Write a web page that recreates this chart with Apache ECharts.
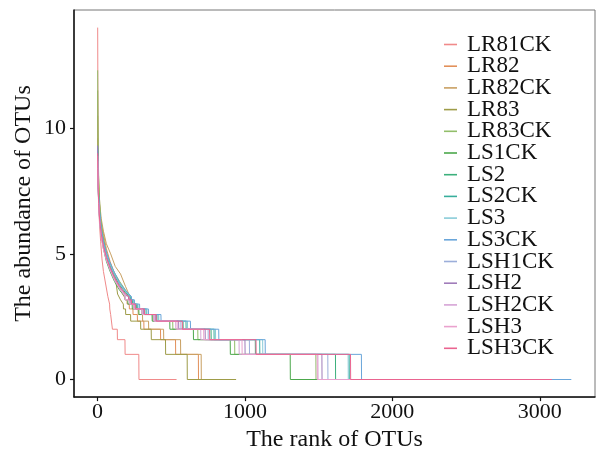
<!DOCTYPE html>
<html><head><meta charset="utf-8">
<script src="https://cdn.jsdelivr.net/npm/echarts@6/dist/echarts.min.js"></script>
<style>html,body{margin:0;padding:0;background:#fff}#c{width:597px;height:457px}</style>
</head><body><div id="c"></div>
<script>
// Sample names
const samples = ["LR81CK","LR82","LR82CK","LR83","LR83CK","LS1CK","LS2","LS2CK","LS3","LS3CK","LSH1CK","LSH2","LSH2CK","LSH3","LSH3CK"];
const colors = ["#F08A8A","#E2905A","#C9A062","#9E9C48","#92BE6A","#4CA84C","#3CB07C","#38AE9C","#8ACCD8","#6AA6DA","#9CAEDA","#A07CBA","#D6A4D6","#EAA2CE","#EA6490"];
const xTicks = [0,1000,2000,3000];
const yTicks = [0,5,10];

// Head of each curve: [rank, log2 abundance]
const head_LR81CK = [[1,14],[2,12],[3,10.5],[4,9.3],[6,8.1],[9,6.8],[14,6.1],[21,5.5],[30,4.8],[40,4.3],[55,3.8],[70,3.3],[82,3.0]];
const head_LR82   = [[1,9.6],[2,9.0],[4,8.2],[8,7.4],[15,6.8],[25,6.2],[40,5.8],[60,5.2],[85,4.7],[110,4.3],[140,3.8],[170,3.4],[200,3.1]];
const head_LR82CK = [[1,10.5],[2,9.8],[4,8.8],[8,7.8],[15,7.0],[25,6.4],[40,5.9],[60,5.4],[89,5.0],[120,4.5],[156,4.2],[190,3.7],[220,3.3]];
const head_LR83   = [[1,11.5],[2,10.2],[3,9.4],[5,8.5],[10,7.3],[20,6.3],[35,5.7],[55,5.1],[80,4.6],[105,4.2],[122,4.0],[136,3.4],[156,3.17],[175,3.0]];
const head_LR83CK = [[1,12.3],[2,11],[3,10],[5,8.8],[8,8.0],[12,7.3],[20,6.5],[35,5.8],[55,5.2],[80,4.7],[110,4.3],[150,3.9],[190,3.55],[225,3.3]];
const head_LS1CK  = [[1,9.0],[2,8.4],[4,7.7],[8,7.0],[15,6.3],[25,5.7],[40,5.2],[60,4.7],[85,4.3],[115,3.9],[150,3.55],[185,3.3]];
const head_LS2    = [[1,9.1],[2,8.5],[4,7.9],[8,7.2],[15,6.5],[25,5.9],[40,5.4],[60,4.9],[85,4.5],[115,4.1],[150,3.75],[190,3.45],[220,3.3]];
const head_LS2CK  = [[1,9.2],[2,8.6],[4,7.9],[8,7.2],[15,6.6],[25,6.0],[40,5.5],[60,5.0],[85,4.6],[115,4.2],[150,3.8],[190,3.5],[225,3.3]];
const head_LS3    = [[1,8.8],[2,8.3],[4,7.7],[8,7.1],[15,6.5],[25,5.9],[40,5.4],[60,5.0],[85,4.6],[115,4.2],[150,3.8],[190,3.5],[228,3.3]];
const head_LS3CK  = [[1,9.3],[2,8.7],[4,8.0],[8,7.3],[15,6.6],[25,6.0],[40,5.5],[60,5.05],[85,4.65],[115,4.25],[150,3.85],[190,3.55],[230,3.3]];
const head_LSH1CK = [[1,9.0],[2,8.4],[4,7.8],[8,7.1],[15,6.4],[25,5.8],[40,5.3],[60,4.85],[85,4.45],[115,4.05],[150,3.7],[190,3.4],[215,3.3]];
const head_LSH2   = [[1,9.3],[2,8.6],[4,7.8],[8,7.0],[15,6.3],[25,5.8],[40,5.3],[60,4.8],[85,4.4],[115,4.0],[150,3.65],[190,3.35],[210,3.3]];
const head_LSH2CK = [[1,8.7],[2,8.2],[4,7.6],[8,6.9],[15,6.2],[25,5.7],[40,5.2],[60,4.75],[85,4.35],[115,3.95],[150,3.6],[185,3.32]];
const head_LSH3   = [[1,8.9],[2,8.3],[4,7.6],[8,6.9],[15,6.2],[25,5.7],[40,5.2],[60,4.8],[85,4.4],[115,4.0],[150,3.65],[188,3.35]];
const head_LSH3CK = [[1,9.0],[2,8.4],[4,7.7],[8,7.0],[15,6.3],[25,5.8],[40,5.3],[60,4.85],[85,4.45],[115,4.05],[150,3.7],[190,3.4],[212,3.3]];

// Tail of each curve: [OTU count, last rank holding that count]
const steps_LR81CK = [[7,88],[6,100],[4,134],[3,186],[2,280],[1,536]];
const steps_LR82   = [[8,215],[7,240],[6,270],[5,314],[4,427],[3,529],[2,684],[1,700]];
const steps_LR82CK = [[8,245],[7,275],[6,305],[5,346],[4,448],[3,563],[2,703],[1,930]];
const steps_LR83   = [[7,190],[6,224],[5,292],[4,364],[3,461],[2,608],[1,940]];
const steps_LR83CK = [[9,240],[8,262],[7,300],[6,375],[5,510],[4,680],[3,930],[2,1481],[1,2200]];
const steps_LS1CK  = [[9,205],[8,235],[7,280],[6,370],[5,490],[4,650],[3,900],[2,1307],[1,1500]];
const steps_LS2    = [[9,235],[8,262],[7,320],[6,400],[5,580],[4,770],[3,1070],[2,1614],[1,2600]];
const steps_LS2CK  = [[9,240],[8,270],[7,330],[6,410],[5,600],[4,790],[3,1100],[2,1707],[1,2900]];
const steps_LS3    = [[9,245],[8,275],[7,335],[6,415],[5,610],[4,800],[3,1120],[2,1700],[1,2750]];
const steps_LS3CK  = [[9,250],[8,285],[7,345],[6,430],[5,630],[4,822],[3,1137],[2,1790],[1,3214]];
const steps_LSH1CK = [[9,228],[8,255],[7,315],[6,395],[5,565],[4,750],[3,1030],[2,1562],[1,2400]];
const steps_LSH2   = [[9,225],[8,252],[7,310],[6,390],[5,550],[4,730],[3,1000],[2,1522],[1,2500]];
const steps_LSH2CK = [[9,215],[8,245],[7,300],[6,380],[5,530],[4,700],[3,960],[2,1495],[1,2300]];
const steps_LSH3   = [[9,220],[8,248],[7,305],[6,385],[5,540],[4,720],[3,980],[2,1490],[1,2950]];
const steps_LSH3CK = [[9,230],[8,258],[7,318],[6,398],[5,575],[4,760],[3,1075],[2,1716],[1,3082]];

const heads = [head_LR81CK,head_LR82,head_LR82CK,head_LR83,head_LR83CK,head_LS1CK,head_LS2,head_LS2CK,head_LS3,head_LS3CK,head_LSH1CK,head_LSH2,head_LSH2CK,head_LSH3,head_LSH3CK];
const stepsAll = [steps_LR81CK,steps_LR82,steps_LR82CK,steps_LR83,steps_LR83CK,steps_LS1CK,steps_LS2,steps_LS2CK,steps_LS3,steps_LS3CK,steps_LSH1CK,steps_LSH2,steps_LSH2CK,steps_LSH3,steps_LSH3CK];

function buildCurve(head, steps){
  const pts = head.map(p => [p[0], p[1]]);
  let prev = head[head.length-1][0];
  steps.forEach(([n, last]) => {
    const v = Math.log2(n);
    pts.push([prev+1, v]);
    pts.push([last, v]);
    prev = last;
  });
  return pts;
}

const FONT = "Liberation Serif";
const series = samples.map((name,i) => ({
  name, type:'line', data: buildCurve(heads[i], stepsAll[i]),
  symbol:'none', showSymbol:false, animation:false,
  lineStyle:{width:1, color:colors[i]}, itemStyle:{color:colors[i]}
}));

const chart = echarts.init(document.getElementById('c'), null, {renderer:'canvas'});
chart.setOption({
  backgroundColor:'#fff',
  animation:false,
  grid:{left:74, right:2, top:10, bottom:56, show:true, borderColor:'#777', borderWidth:1, backgroundColor:'transparent'},
  legend:{
    orient:'vertical', left:439, top:28, itemGap:-1.3, itemWidth:13, itemHeight:1.6,
    icon:'rect',
    data:samples,
    textStyle:{fontFamily:FONT, fontSize:23, color:'#111', lineHeight:21.66, padding:[0,0,0,5]}
  },
  xAxis:{
    type:'value', min:-159.65, max:3374.65,
    name:'The rank of OTUs', nameLocation:'middle', nameGap:29,
    nameTextStyle:{fontFamily:FONT, fontSize:24, color:'#111'},
    axisLine:{show:true, onZero:false, lineStyle:{color:'#111', width:1.5}},
    axisTick:{show:true, length:4, customValues:xTicks, lineStyle:{color:'#111', width:1.2}},
    axisLabel:{fontFamily:FONT, fontSize:22, color:'#111', margin:4, customValues:xTicks, formatter:v=>String(v)},
    splitLine:{show:false}
  },
  yAxis:{
    type:'value', min:-0.7, max:14.7,
    name:'The abundance of OTUs', nameLocation:'middle', nameGap:38, nameMoveOverlap:false,
    nameTextStyle:{fontFamily:FONT, fontSize:24, color:'#111'},
    axisLine:{show:true, onZero:false, lineStyle:{color:'#111', width:1.5}},
    axisTick:{show:true, length:4, customValues:yTicks, lineStyle:{color:'#111', width:1.2}},
    axisLabel:{fontFamily:FONT, fontSize:22, color:'#111', margin:8, customValues:yTicks, formatter:v=>String(v)},
    splitLine:{show:false}
  },
  series
});
</script></body></html>
